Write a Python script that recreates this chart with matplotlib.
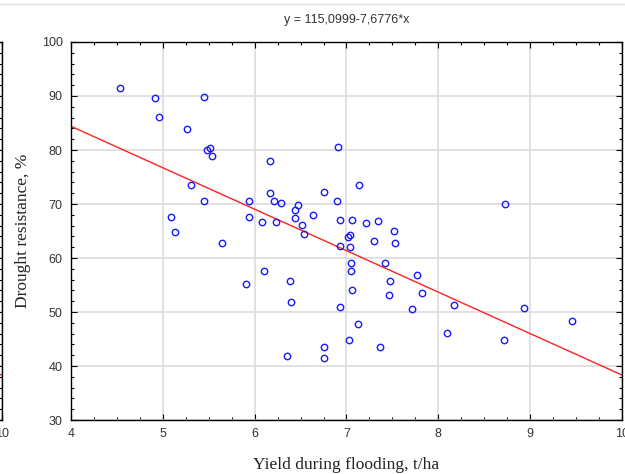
import matplotlib
matplotlib.use('Agg')
import matplotlib.pyplot as plt
from matplotlib.ticker import MultipleLocator
from matplotlib.lines import Line2D
import numpy as np

# yield during flooding, t/ha
yield_t = [4.53, 4.92, 5.45, 4.96, 5.26, 5.48, 5.51, 5.54, 5.31, 5.45,
           5.94, 5.09, 5.94, 5.13, 5.64, 6.91, 6.17, 7.14, 6.75, 6.17,
           6.21, 6.29, 6.90, 6.47, 6.44, 6.63, 6.08, 6.23, 6.44, 6.51,
           6.54, 6.93, 7.06, 7.21, 7.34, 7.52, 7.53, 7.30, 7.02, 7.04,
           6.93, 7.04, 7.42, 7.05, 7.05, 7.77, 7.47, 7.06, 7.82, 7.46,
           6.93, 7.71, 8.17, 7.13, 8.09, 7.03, 7.37, 6.76, 6.76, 6.10,
           5.91, 6.38, 6.40, 6.35, 8.73, 8.93, 8.72, 9.46]
# drought resistance, %
drought = [91.5, 89.6, 89.9, 86.1, 83.8, 80.0, 80.3, 78.8, 73.5, 70.6,
           70.5, 67.6, 67.6, 64.8, 62.7, 80.6, 78.0, 73.5, 72.2, 72.0,
           70.6, 70.2, 70.5, 69.8, 68.9, 68.0, 66.7, 66.7, 67.5, 66.2,
           64.4, 67.0, 67.0, 66.5, 66.8, 65.0, 62.7, 63.1, 63.9, 64.2,
           62.2, 62.0, 59.0, 59.0, 57.6, 56.9, 55.7, 54.1, 53.6, 53.1,
           50.9, 50.6, 51.3, 47.8, 46.1, 44.8, 43.6, 43.6, 41.5, 57.6,
           55.1, 55.7, 51.9, 41.8, 70.0, 50.8, 44.8, 48.3]

# regression y = a + b*x
a = 115.0999
b = -7.6776

xlim = (4, 10)
ylim = (30, 100)


def draw(ax):
    ax.plot(yield_t, drought, 'o', ms=4.6, mfc='none', mec='#1a1aff', mew=1.0, zorder=3)
    xs = np.array(xlim)
    ax.plot(xs, a + b * xs, color='#ff2020', lw=1.0, zorder=2)
    ax.set_xlim(*xlim)
    ax.set_ylim(*ylim)
    ax.xaxis.set_major_locator(MultipleLocator(1))
    ax.xaxis.set_minor_locator(MultipleLocator(0.25))
    ax.yaxis.set_major_locator(MultipleLocator(10))
    ax.yaxis.set_minor_locator(MultipleLocator(2))
    ax.tick_params(which='both', direction='in', top=True, right=True,
                   labelsize=9, labelcolor='#333333', width=0.8)
    ax.tick_params(which='major', length=4, pad=6)
    ax.tick_params(which='minor', length=2.5)
    ax.grid(True, which='major', color='#dcdcdc', lw=1.2)
    ax.set_axisbelow(True)
    for s in ax.spines.values():
        s.set_linewidth(1.0)
        s.set_color('black')
    for lab in ax.get_xticklabels() + ax.get_yticklabels():
        lab.set_family('Liberation Sans')


fig = plt.figure(figsize=(6.25, 4.74), dpi=100)

# neighbouring panel, only its right edge shows
ghost = fig.add_axes([-0.9, 0.1139, 0.9027, 0.7975])
draw(ghost)

ax = fig.add_axes([0.1136, 0.1139, 0.8816, 0.7975])
draw(ax)

ax.set_xlabel('Yield during flooding, t/ha', family='Liberation Serif',
              fontsize=12.5, color='#222222', labelpad=12)
ax.set_ylabel('Drought resistance, %', family='Liberation Serif',
              fontsize=12.5, color='#222222', labelpad=8)
ax.set_title('y = 115,0999-7,6776*x', family='Liberation Sans', fontsize=9,
             color='#333333', pad=14)

fig.add_artist(Line2D([0, 1], [0.991, 0.991], color='#e0e0e0', lw=1.0))

fig.savefig('out.png', dpi=100)
